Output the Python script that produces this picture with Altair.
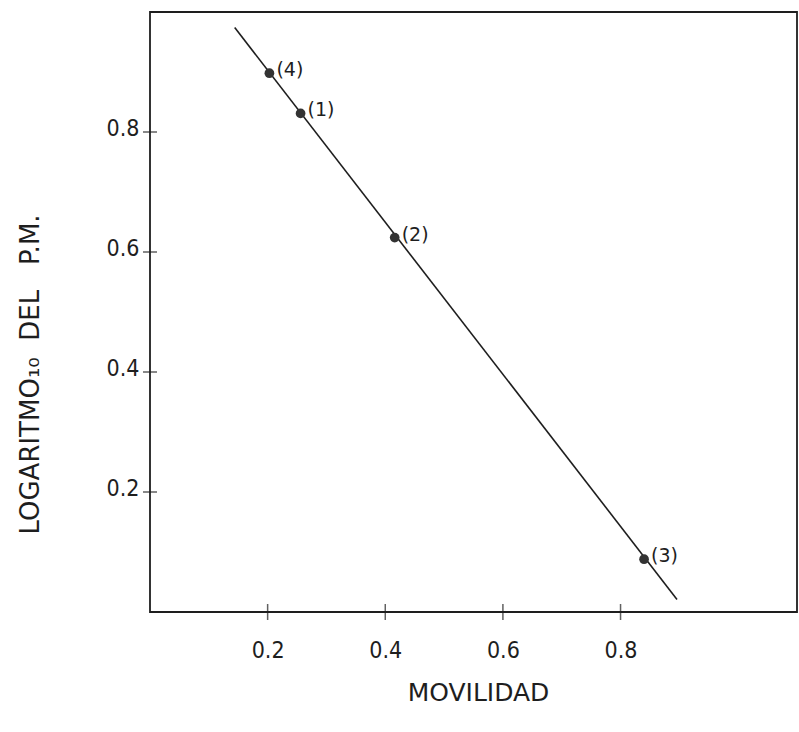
import altair as alt
import pandas as pd

# Data
movilidad = [0.256, 0.416, 0.840, 0.203]
log_pm = [0.831, 0.624, 0.088, 0.898]
etiquetas = ["(1)", "(2)", "(3)", "(4)"]

# Fitted line endpoints
linea_x = [0.144, 0.896]
linea_y = [0.974, 0.021]

# Tick values
x_ticks = [0.2, 0.4, 0.6, 0.8]
y_ticks = [0.2, 0.4, 0.6, 0.8]

pts = pd.DataFrame({"x": movilidad, "y": log_pm, "lab": etiquetas})
lin = pd.DataFrame({"x": linea_x, "y": linea_y})
xt = pd.DataFrame({"x": x_ticks, "y": [0.0] * len(x_ticks)})
yt = pd.DataFrame({"x": [0.0] * len(y_ticks), "y": y_ticks})

FONT = "Liberation Sans Narrow, DejaVu Sans Condensed, Liberation Sans, sans-serif"
INK = "#1e1e1e"

xscale = alt.Scale(domain=[0, 1.10], nice=False, zero=False)
yscale = alt.Scale(domain=[0, 1.0], nice=False, zero=False)

xaxis = alt.Axis(
    values=x_ticks, format=".1f", ticks=False, tickSize=0, domain=False, grid=False,
    labelFont=FONT, labelFontSize=23, labelColor=INK, labelPadding=27,
    title="MOVILIDAD", titleFont="DejaVu Sans", titleFontSize=25, titleFontWeight="normal",
    titleColor=INK, titleX=328, titleY=80, titleBaseline="middle", titleAlign="center",
)
yaxis = alt.Axis(
    values=y_ticks, format=".1f", ticks=False, tickSize=0, domain=False, grid=False,
    labelFont=FONT, labelFontSize=23, labelColor=INK, labelPadding=11,
    labelBaseline="alphabetic", labelOffset=3,
    title="LOGARITMO₁₀\u00a0\u00a0DEL\u00a0\u00a0\u00a0P.M.", titleFont="DejaVu Sans", titleFontSize=26,
    titleFontWeight="normal", titleColor=INK, titleAngle=-90, titleX=-120, titleY=362,
    titleBaseline="middle", titleAlign="center",
)

line = alt.Chart(lin).mark_line(color=INK, strokeWidth=1.6).encode(
    x=alt.X("x:Q", scale=xscale, axis=xaxis),
    y=alt.Y("y:Q", scale=yscale, axis=yaxis),
)

points = alt.Chart(pts).mark_circle(size=95, color="#333333", opacity=1).encode(
    x=alt.X("x:Q", scale=xscale),
    y=alt.Y("y:Q", scale=yscale),
)

labels = alt.Chart(pts).mark_text(
    align="left", baseline="middle", dx=7, dy=-3, font="DejaVu Sans", fontSize=19, color=INK
).encode(
    x=alt.X("x:Q", scale=xscale),
    y=alt.Y("y:Q", scale=yscale),
    text="lab:N",
)

xticks = alt.Chart(xt).mark_tick(orient="vertical", size=16, thickness=1.5, color=INK).encode(
    x=alt.X("x:Q", scale=xscale),
    y=alt.Y("y:Q", scale=yscale),
)
yticks = alt.Chart(yt).mark_tick(orient="horizontal", size=14, thickness=1.5, color=INK).encode(
    x=alt.X("x:Q", scale=xscale),
    y=alt.Y("y:Q", scale=yscale),
)

chart = (
    alt.layer(line, xticks, yticks, points, labels)
    .properties(
        width=647,
        height=600,
        autosize=alt.AutoSizeParams(type="none"),
        padding={"left": 150, "top": 12, "right": 2, "bottom": 120},
        background="white",
    )
    .configure_view(stroke=INK, strokeWidth=1.8)
)

chart.save("out.html", embed_options={"renderer": "svg", "actions": False})
